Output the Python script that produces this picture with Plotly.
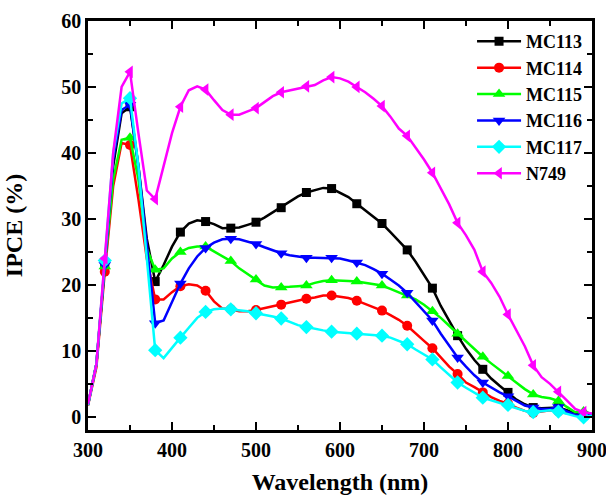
import plotly.graph_objects as go

wavelength = list(range(300, 901, 10))

mc113 = [1.9, 8, 23, 38, 46, 47, 38, 27, 20.5, 23, 25.8, 28, 29.3, 29.8, 29.6, 29.2, 28.6, 28.6, 28.7, 29.1,
         29.5, 30.2, 31, 31.7, 32.6, 33.4, 34, 34.4, 34.7, 34.6, 34, 33.3, 32.3, 31.3, 30.3, 29.3, 28, 26.7,
         25.3, 23.5, 21.5, 19.5, 16.8, 14.5, 12.3, 10.3, 8.6, 7.2, 5.8, 4.7, 3.7, 2.6, 1.9, 1.4, 1.3, 1.4,
         1.4, 1.0, 0.5, 0.2, 0.3]
mc114 = [1.7, 7.5, 22, 35, 41.5, 41.2, 33, 24, 17.8, 17.8, 18.9, 19.8, 20.1, 19.9, 19.1, 17.5, 16.4, 16.3,
         16, 16, 16.2, 16.5, 16.8, 17, 17.3, 17.6, 17.9, 18.1, 18.4, 18.4, 18.2, 18, 17.6, 17.1, 16.6, 16.1,
         15.4, 14.7, 13.8, 12.6, 11.5, 10.4, 9.0, 7.6, 6.5, 5.2, 4.5, 3.7, 3, 2.4, 2, 1.4, 0.9, 0.6, 0.8,
         1.0, 0.8, 0.5, 0.2, 0.0, 0.2]
mc115 = [1.8, 8, 22.8, 36, 42, 42.3, 36, 25.5, 22.3, 22.5, 24, 25, 25.6, 25.8, 25.8, 25.1, 24.4, 23.6,
         22.5, 21.6, 20.8, 19.9, 19.6, 19.6, 19.7, 19.8, 19.9, 20.3, 20.6, 20.7, 20.7, 20.6, 20.5, 20.3,
         20.1, 19.9, 19.4, 18.9, 18.4, 17.8, 17, 16, 15, 13.8, 12.6, 11.4, 10.3, 9.1, 8.1, 7.1, 6.2, 5.1,
         4.2, 3.4, 3.0, 2.8, 2.4, 1.5, 0.7, 0.8, 0.4]
mc116 = [1.8, 8, 23, 39, 46.5, 47.3, 38, 26, 14.2, 14.6, 17.5, 20.2, 22.5, 24.3, 25.6, 26.4, 26.9, 27,
         26.9, 26.6, 26.2, 25.7, 25.2, 24.8, 24.5, 24.3, 24.1, 24.1, 24.1, 24.1, 24, 23.7, 23.4, 23, 22.4,
         21.7, 20.8, 19.9, 18.8, 17.4, 16, 14.6, 12.6, 10.8, 9, 7.6, 6.3, 5.2, 4.4, 3.7, 3.1, 2.4, 1.7,
         1.4, 1.2, 1.2, 1.5, 0.8, 0.3, 0.1, 0.3]
mc117 = [1.8, 8, 23.7, 40, 47.5, 48.3, 38, 24, 10.1, 8.9, 10.5, 12, 13.5, 15, 15.9, 16.3, 16.4, 16.3,
         16.2, 16, 15.7, 15.5, 15.2, 14.9, 14.4, 13.9, 13.6, 13.3, 13.1, 12.9, 12.8, 12.7, 12.6, 12.5,
         12.4, 12.3, 12, 11.5, 11, 10.2, 9.5, 8.7, 7.5, 6.3, 5.2, 4.4, 3.6, 2.9, 2.5, 2.1, 1.8, 1.3, 0.9,
         0.7, 0.9, 1.0, 0.8, 0.4, 0.1, -0.1, 0.2]
n749 = [1.9, 8, 24, 40, 50, 52.3, 43, 34.3, 33, 38, 43, 47, 49.5, 50.1, 49.6, 48, 46.5, 45.8, 45.8, 46.3,
        46.8, 47.7, 48.6, 49.2, 49.5, 49.8, 50.1, 50.3, 51, 51.5, 51.3, 50.8, 50, 49.2, 48.2, 47.1, 45.5,
        43.7, 42.6, 40.8, 39, 37, 34.5, 32.2, 29.4, 27.5, 25.3, 22, 20.3, 18.2, 15.5, 13.2, 10.7, 7.8,
        6.0, 5.0, 3.8, 2.5, 1.2, 0.7, 0.5]

series_names = ["MC113", "MC114", "MC115", "MC116", "MC117", "N749"]
series_values = [mc113, mc114, mc115, mc116, mc117, n749]
colors = ["#000000", "#FF0000", "#00FF00", "#0000FF", "#00FFFF", "#FF00FF"]
symbols = ["square", "circle", "triangle-up", "triangle-down", "diamond", "triangle-left"]
marker_sizes = [9, 10, 11, 11, 11, 11]

x_ticks = [300, 400, 500, 600, 700, 800, 900]
y_ticks = [0, 10, 20, 30, 40, 50, 60]

fig = go.Figure()
for name, vals, col, sym, ms in zip(series_names, series_values, colors, symbols, marker_sizes):
    fig.add_trace(go.Scatter(x=wavelength, y=vals, mode="lines",
                             line=dict(color=col, width=2.5),
                             showlegend=False, legendgroup=name, hoverinfo="skip"))
    mx = wavelength[2::3]
    my = vals[2::3]
    fig.add_trace(go.Scatter(x=mx, y=my, mode="markers",
                             marker=dict(color=col, symbol=sym, size=ms, line=dict(width=0)),
                             showlegend=False, legendgroup=name, name=name))
    fig.add_trace(go.Scatter(x=[None], y=[None], mode="lines+markers", name=f"<b>{name}</b>",
                             line=dict(color=col, width=2.5),
                             marker=dict(color=col, symbol=sym, size=ms, line=dict(width=0)),
                             legendgroup=name))

font_family = "Liberation Serif, Times New Roman, serif"
axis_common = dict(
    showline=True, linecolor="black", linewidth=2.5, mirror="ticks",
    ticks="inside", ticklen=8, tickwidth=2, tickcolor="black",
    showgrid=False, zeroline=False, automargin=False, ticklabeloverflow="allow",
    tickfont=dict(family=font_family, size=20, color="black"),
)

fig.update_layout(
    width=606, height=495,
    margin=dict(l=88, r=14, t=21, b=65),
    paper_bgcolor="white", plot_bgcolor="white",
    font=dict(family=font_family, color="black"),
    xaxis=dict(range=[300, 900], tickvals=x_ticks,
               ticktext=[f"<b>{v}</b>" for v in x_ticks],
               minor=dict(ticks="inside", ticklen=5, tickwidth=2, tickcolor="black", dtick=50, tick0=300),
               title=dict(text="<b>Wavelength (nm)</b>", font=dict(family=font_family, size=24), standoff=28),
               **axis_common),
    yaxis=dict(range=[-2, 60], tickvals=y_ticks,
               ticktext=[f"<b>{v}</b>" for v in y_ticks],
               minor=dict(ticks="inside", ticklen=5, tickwidth=2, tickcolor="black", dtick=5, tick0=0),
               title=dict(text="<b>IPCE (%)</b>", font=dict(family=font_family, size=24), standoff=32),
               **axis_common),
    legend=dict(x=0.762, y=0.995, xanchor="left", yanchor="top",
                font=dict(family=font_family, size=18, color="black"),
                bgcolor="rgba(0,0,0,0)", borderwidth=0, itemwidth=44,
                tracegroupgap=0),
)

fig.write_html("out.html", config={"displayModeBar": False},
               post_script="document.body.style.margin='0';document.body.style.overflow='hidden';")
